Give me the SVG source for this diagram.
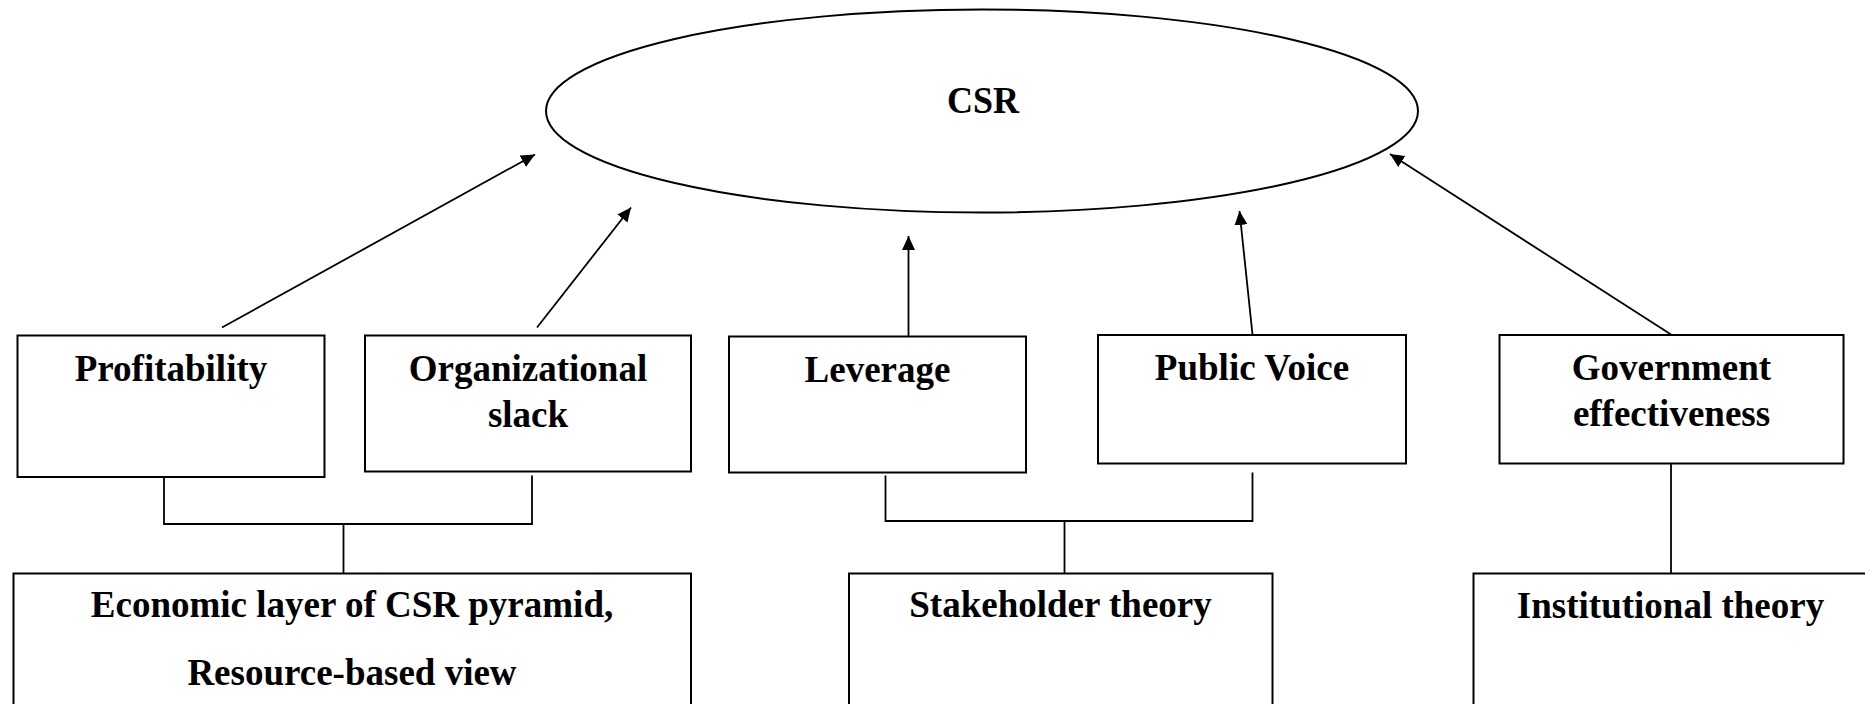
<svg xmlns="http://www.w3.org/2000/svg" width="1865" height="704" viewBox="0 0 1865 704">
<defs>
<style>
.box{fill:#fff;stroke:#000;stroke-width:2}
.ln{fill:none;stroke:#000;stroke-width:1.8}
.t{font-family:"Liberation Serif","Times New Roman",serif;font-weight:bold;font-size:37px;text-anchor:middle;fill:#000}
.csr{font-family:"Liberation Serif","Times New Roman",serif;font-weight:bold;font-size:38px;text-anchor:middle;fill:#000}
</style>
<marker id="ah" markerUnits="userSpaceOnUse" markerWidth="16" markerHeight="14" refX="14" refY="6.5" orient="auto">
<path d="M0,0 L14,6.5 L0,13 Z" fill="#000"/>
</marker>
</defs>
<rect width="1865" height="704" fill="#fff"/>
<g id="csr">
<ellipse cx="982" cy="111" rx="436" ry="101.5" fill="#fff" stroke="#000" stroke-width="2"/>
<text class="csr" x="983" y="112.5" textLength="72" lengthAdjust="spacingAndGlyphs">CSR</text>
</g>
<g id="profitability">
<rect class="box" x="17.5" y="335.5" width="307" height="141.5"/>
<text class="t" x="171" y="381">Profitability</text>
</g>
<g id="orgslack">
<rect class="box" x="365" y="335.5" width="326" height="136"/>
<text class="t" x="528" y="381">Organizational</text>
<text class="t" x="528" y="427">slack</text>
</g>
<g id="leverage">
<rect class="box" x="729" y="336.5" width="297" height="136"/>
<text class="t" x="877.5" y="381.5">Leverage</text>
</g>
<g id="publicvoice">
<rect class="box" x="1098" y="335" width="308" height="128.5"/>
<text class="t" x="1252" y="380">Public Voice</text>
</g>
<g id="government">
<rect class="box" x="1499.5" y="335" width="344" height="128.5"/>
<text class="t" x="1671.5" y="380">Government</text>
<text class="t" x="1671.5" y="426">effectiveness</text>
</g>
<g id="economic">
<rect class="box" x="13.5" y="573.5" width="677.5" height="140"/>
<text class="t" x="352" y="616.5">Economic layer of CSR pyramid,</text>
<text class="t" x="352" y="685">Resource-based view</text>
</g>
<g id="stakeholder">
<rect class="box" x="849" y="573.5" width="423.5" height="140"/>
<text class="t" x="1060.5" y="616.5">Stakeholder theory</text>
</g>
<g id="institutional">
<rect class="box" x="1473.5" y="573.5" width="400" height="140"/>
<text class="t" x="1670.5" y="618">Institutional theory</text>
</g>
<g id="connectors">
<line class="ln" x1="222" y1="327.5" x2="535" y2="154.5" marker-end="url(#ah)"/>
<line class="ln" x1="537" y1="327.5" x2="631" y2="207.5" marker-end="url(#ah)"/>
<line class="ln" x1="908.5" y1="336" x2="908.5" y2="236" marker-end="url(#ah)"/>
<line class="ln" x1="1252.5" y1="334.5" x2="1239.5" y2="211" marker-end="url(#ah)"/>
<line class="ln" x1="1671" y1="334.5" x2="1390" y2="154" marker-end="url(#ah)"/>
<path class="ln" d="M164,477 V524 H532 V475.5 M343.5,524 V573.5"/>
<path class="ln" d="M885.5,475.5 V521 H1252.5 V472.5 M1064.5,521 V573.5"/>
<path class="ln" d="M1671,463.5 V573.5"/>
</g>
</svg>
